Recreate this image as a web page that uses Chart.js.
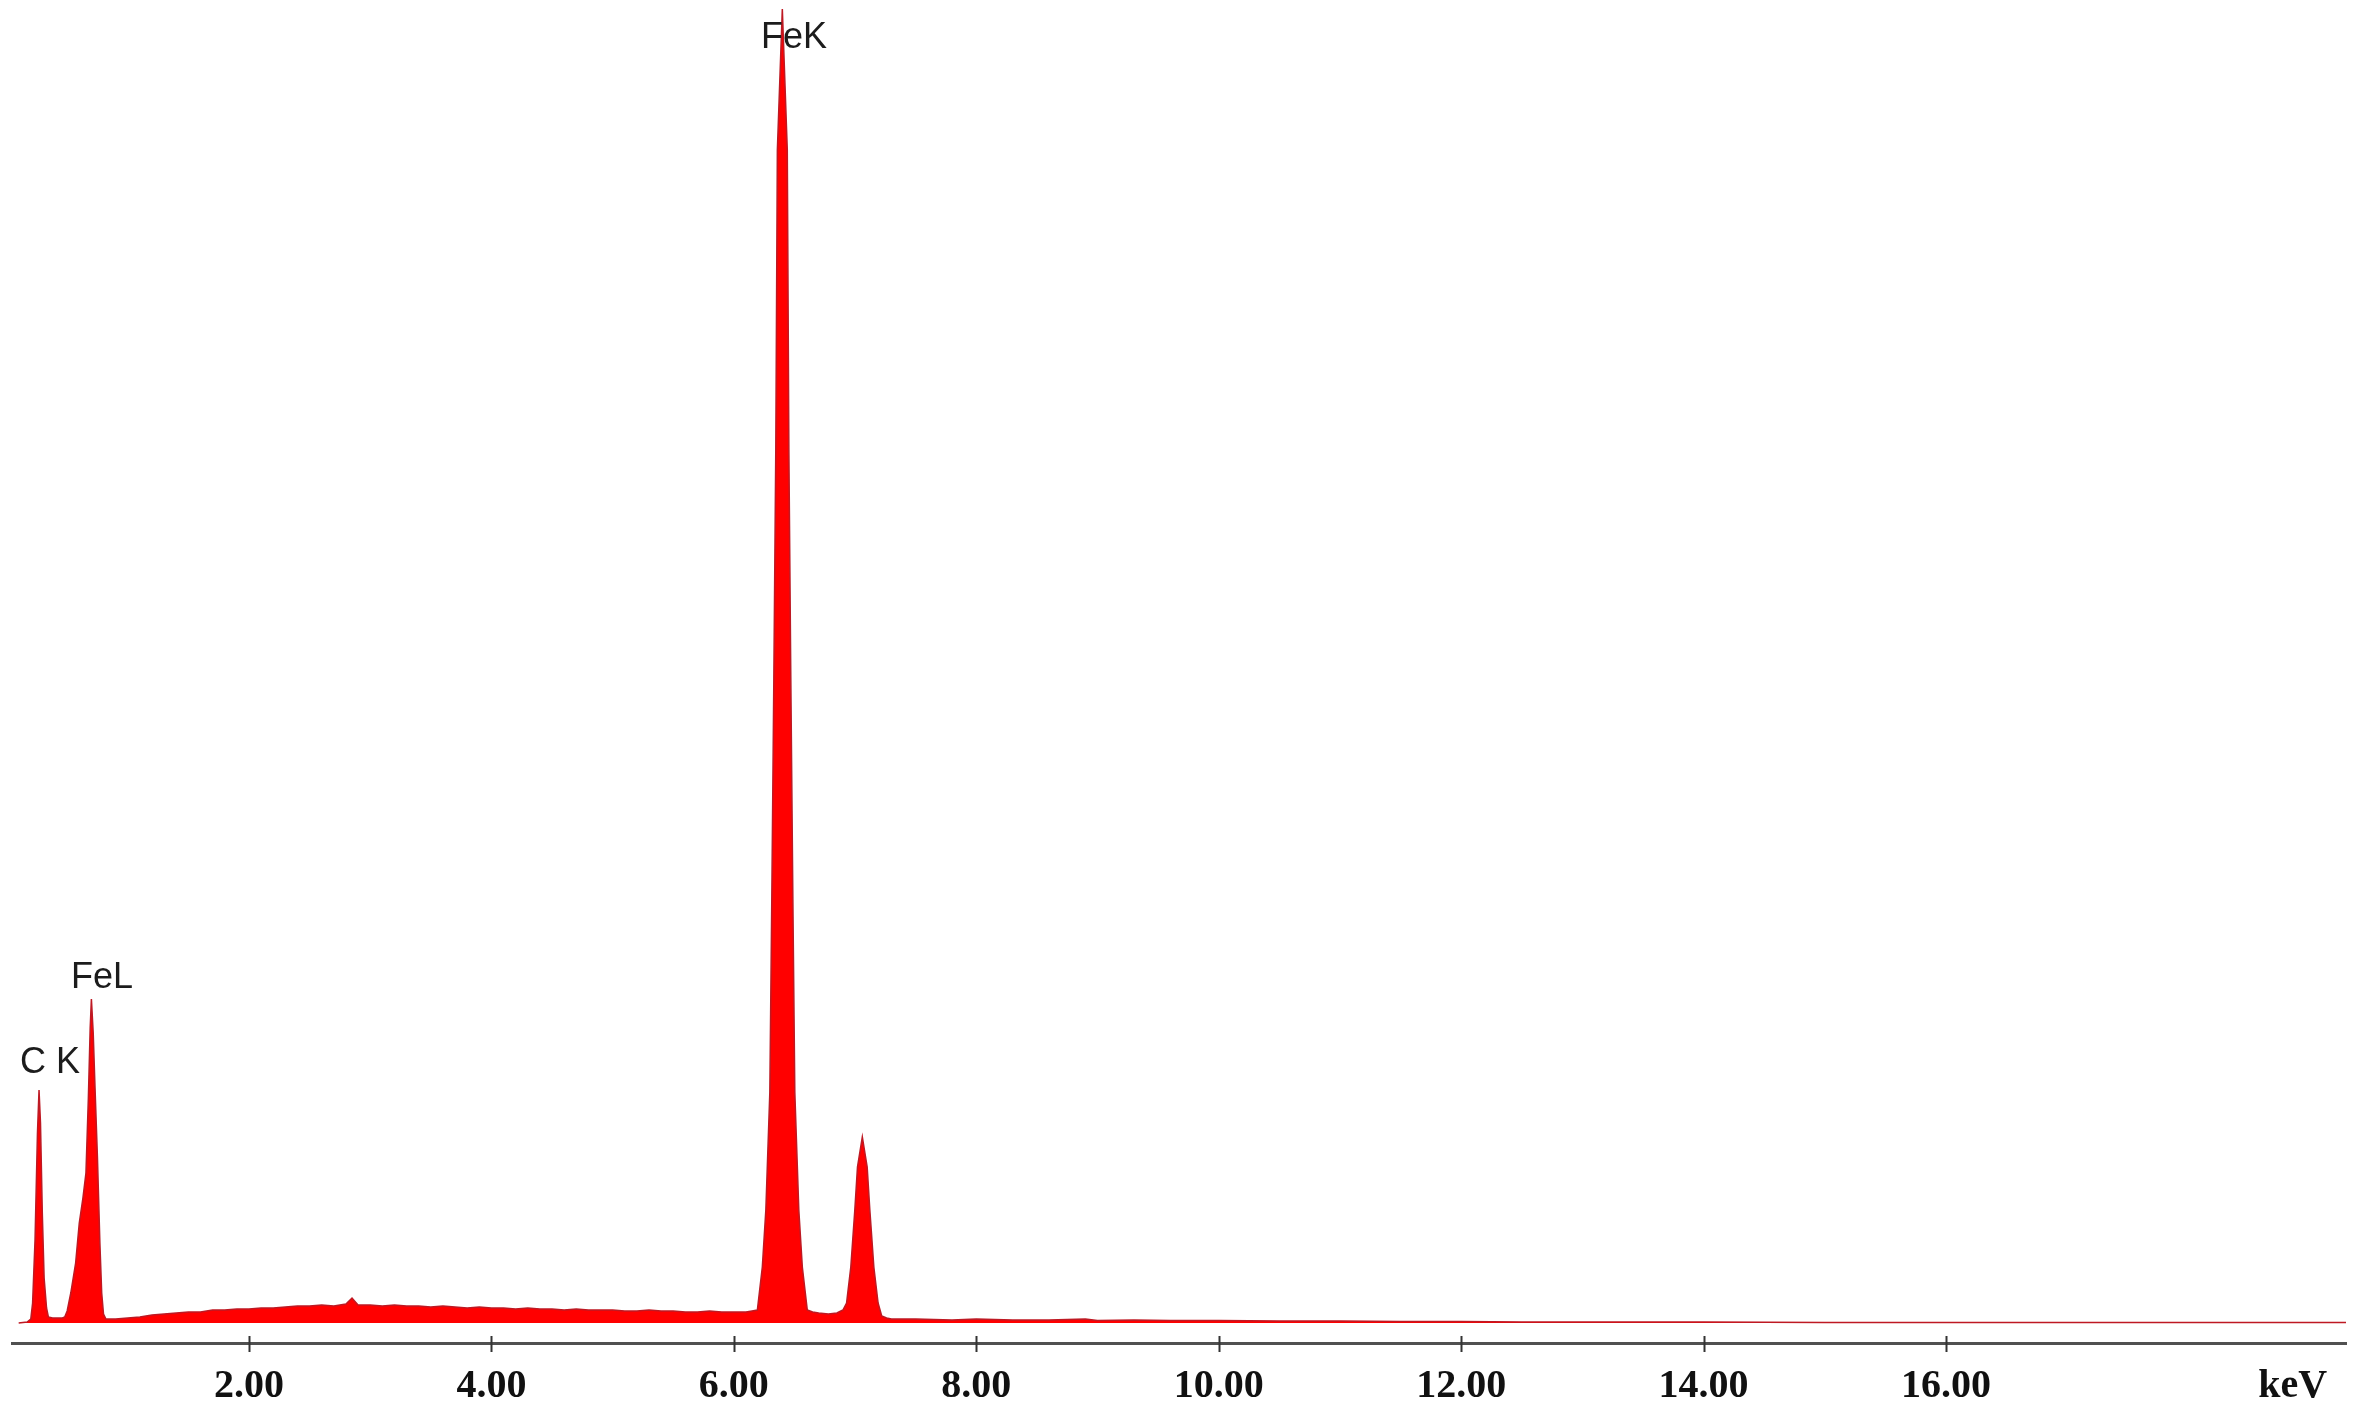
<!DOCTYPE html>
<html>
<head>
<meta charset="utf-8">
<script src="https://cdn.jsdelivr.net/npm/chart.js@4.4.1/dist/chart.umd.min.js"></script>
<style>
  html, body { margin: 0; padding: 0; background: #fff; }
  #wrap { width: 2364px; height: 1419px; }
</style>
</head>
<body>
<div id="wrap"><canvas id="spectrum" width="2364" height="1419"></canvas></div>
<script>
// energy (keV) and counts
const energy = [
  0.10, 0.17, 0.20, 0.215, 0.235, 0.255, 0.268, 0.28, 0.295, 0.31, 0.33, 0.345,
  0.38, 0.42, 0.46, 0.48, 0.50, 0.53, 0.57, 0.60, 0.63, 0.655, 0.675, 0.69, 0.70,
  0.715, 0.73, 0.75, 0.77, 0.785, 0.80, 0.82, 0.85, 0.90,
  1.00, 1.10, 1.20, 1.30, 1.40, 1.50, 1.60, 1.70, 1.80, 1.90,
  2.00, 2.10, 2.20, 2.30, 2.40, 2.50, 2.60, 2.70, 2.80, 2.85, 2.90,
  3.00, 3.10, 3.20, 3.30, 3.40, 3.50, 3.60, 3.70, 3.80, 3.90,
  4.00, 4.10, 4.20, 4.30, 4.40, 4.50, 4.60, 4.70, 4.80, 4.90,
  5.00, 5.10, 5.20, 5.30, 5.40, 5.50, 5.60, 5.70, 5.80, 5.90,
  6.00, 6.10, 6.15,
  6.194, 6.235, 6.264, 6.297, 6.313, 6.330, 6.346, 6.359, 6.40,
  6.441, 6.454, 6.470, 6.487, 6.503, 6.536, 6.565, 6.606,
  6.65, 6.70, 6.78, 6.85, 6.90, 6.93, 6.965, 6.998, 7.02, 7.06,
  7.10, 7.122, 7.155, 7.19, 7.22, 7.26, 7.30,
  7.5, 7.8, 8.0, 8.3, 8.6, 8.9, 9.0, 9.3, 9.6, 10.0, 10.5, 11.0, 11.5,
  12.0, 12.5, 13.0, 13.5, 14.0, 15.0, 16.0, 17.0, 18.0, 19.3
];
const counts = [
  0, 2, 8, 40, 166, 380, 466, 400, 220, 90, 30, 12,
  10, 10, 10, 12, 24, 60, 120, 200, 250, 300, 450, 590, 648,
  580, 470, 330, 160, 60, 18, 8, 8, 8,
  10, 12, 16, 18, 20, 22, 22, 26, 26, 28,
  28, 30, 30, 32, 34, 34, 36, 34, 38, 50, 36,
  36, 34, 36, 34, 34, 32, 34, 32, 30, 32,
  30, 30, 28, 30, 28, 28, 26, 28, 26, 26,
  26, 24, 24, 26, 24, 24, 22, 22, 24, 22,
  22, 22, 24,
  26, 112, 226, 462, 846, 1290, 1746, 2346, 2628,
  2346, 1746, 1290, 846, 462, 226, 112, 26,
  22, 20, 18, 20, 26, 40, 112, 226, 312, 372,
  312, 226, 112, 40, 14, 10, 8,
  8, 6, 8, 6, 6, 8, 5, 6, 5, 5, 4, 4, 3,
  3, 2, 2, 2, 2, 1, 1, 1, 1, 1
];

// axis ticks (keV) and where the unit label sits
const tickValues = [2, 4, 6, 8, 10, 12, 14, 16];
const unitPos = 18.86;
const unitLabel = 'keV';

// peak labels
const peakNames = ['C K', 'FeL', 'FeK'];
const peakKeV = [0.358, 0.787, 6.496];
const peakCounts = [500, 670, 2550];

const points = energy.map((e, i) => ({ x: e, y: counts[i] }));

const peakLabels = {
  id: 'peakLabels',
  afterDatasetsDraw(chart) {
    const { ctx, scales: { x, y } } = chart;
    ctx.save();
    ctx.font = '36px "Liberation Sans", Arial, sans-serif';
    ctx.fillStyle = '#1c1c1c';
    ctx.textAlign = 'center';
    ctx.textBaseline = 'alphabetic';
    peakNames.forEach((name, i) => {
      ctx.fillText(name, x.getPixelForValue(peakKeV[i]), y.getPixelForValue(peakCounts[i]));
    });
    ctx.restore();
  }
};

// tick marks that cross the axis line
const crossTicks = {
  id: 'crossTicks',
  afterDraw(chart) {
    const { ctx, scales: { x } } = chart;
    const yAxis = chart.chartArea.bottom;
    ctx.save();
    ctx.strokeStyle = '#333';
    ctx.lineWidth = 2;
    x.ticks.forEach(t => {
      if (t.value === unitPos) return;
      const px = Math.round(x.getPixelForValue(t.value)) + 0.5;
      ctx.beginPath();
      ctx.moveTo(px, yAxis - 7);
      ctx.lineTo(px, yAxis + 9);
      ctx.stroke();
    });
    ctx.restore();
  }
};

new Chart(document.getElementById('spectrum'), {
  type: 'line',
  data: {
    datasets: [{
      data: points,
      borderColor: 'rgb(190, 25, 35)',
      borderWidth: 1.5,
      backgroundColor: '#ff0000',
      fill: 'origin',
      pointRadius: 0,
      tension: 0
    }]
  },
  options: {
    responsive: false,
    animation: false,
    devicePixelRatio: 1,
    layout: { padding: { top: 8, left: 12, right: 18, bottom: 0 } },
    plugins: {
      legend: { display: false },
      tooltip: { enabled: false }
    },
    scales: {
      x: {
        type: 'linear',
        min: 0.045,
        max: 19.3,
        grid: { display: false, drawTicks: false },
        border: { display: true, color: '#505050', width: 3 },
        afterBuildTicks: scale => {
          scale.ticks = tickValues.concat([unitPos]).map(v => ({ value: v }));
        },
        afterFit: scale => { scale.height = 76; },
        ticks: {
          autoSkip: false,
          maxRotation: 0,
          padding: 20,
          color: '#111',
          font: { family: '"Liberation Serif", "Times New Roman", serif', size: 40, weight: 'bold' },
          callback: v => v === unitPos ? unitLabel : v.toFixed(2)
        }
      },
      y: {
        display: false,
        min: -40,
        max: 2630
      }
    }
  },
  plugins: [peakLabels, crossTicks]
});
</script>
</body>
</html>
